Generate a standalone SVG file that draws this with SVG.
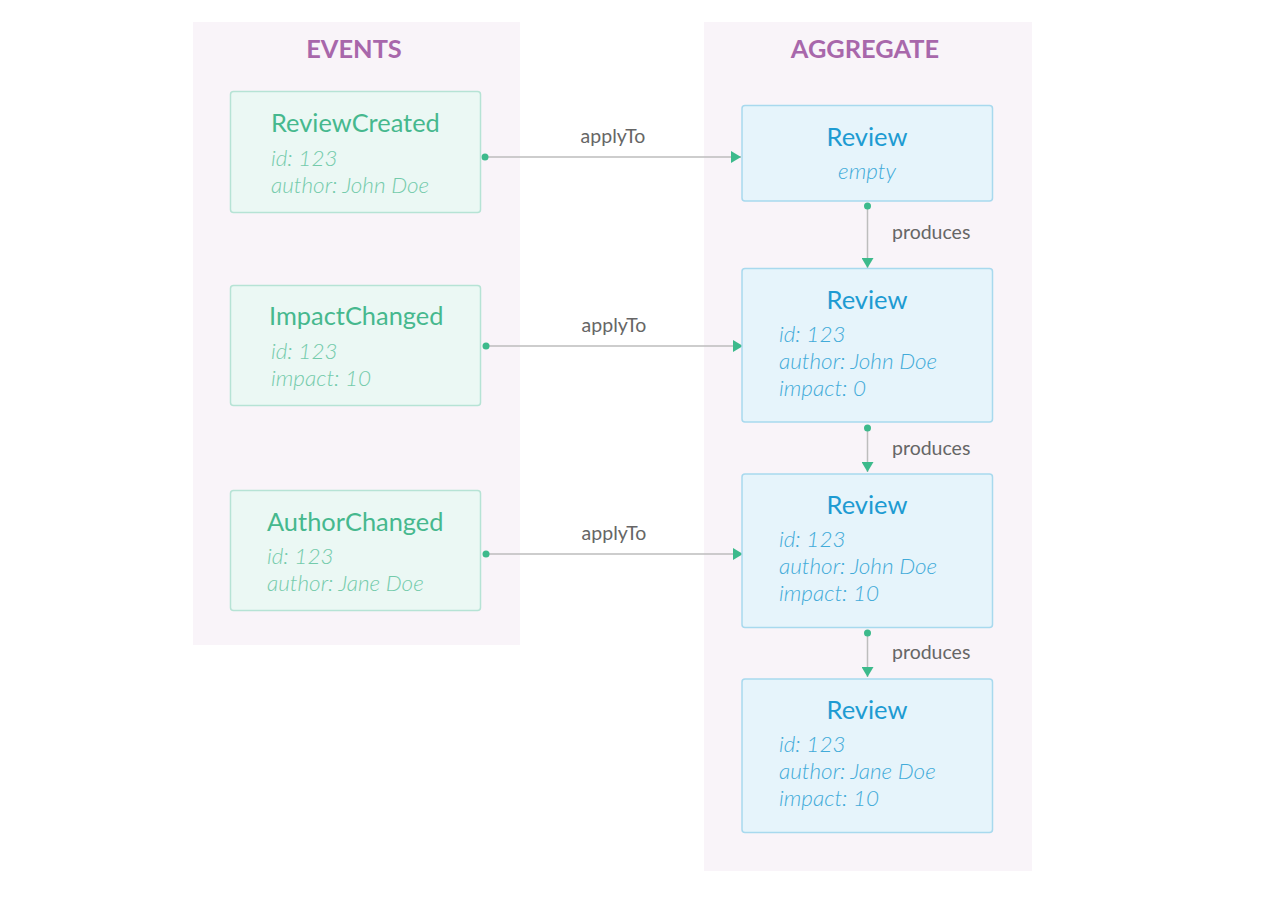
<svg xmlns="http://www.w3.org/2000/svg" width="1268" height="899" viewBox="0 0 1268 899">
<defs>
<style>
.panel{fill:#f9f4f9}
.head{font-family:Lato,"Open Sans","Liberation Sans",sans-serif;font-weight:700;font-size:25.4px;fill:#a867ab;text-anchor:middle}
.ev{fill:#ebf8f4;stroke:#b6e3d5;stroke-width:1.5}
.agg{fill:#e6f4fb;stroke:#a8d9ee;stroke-width:1.5}
.evt{font-family:Lato,"Open Sans","Liberation Sans",sans-serif;font-size:25.4px;fill:#46b88e}
.eva{font-family:"Lato Light",Lato,"Open Sans","Liberation Sans",sans-serif;font-size:22.5px;font-style:italic;font-weight:300;fill:#74cbab}
.agt{font-family:Lato,"Open Sans","Liberation Sans",sans-serif;font-size:25.5px;fill:#1d9bd2;text-anchor:middle}
.aga{font-family:"Lato Light",Lato,"Open Sans","Liberation Sans",sans-serif;font-size:22.5px;font-style:italic;font-weight:300;fill:#42abd9}
.lbl{font-family:Lato,"Open Sans","Liberation Sans",sans-serif;font-size:19.5px;fill:#666666}
.line{stroke:#bdbdbd;stroke-width:1.5;fill:none}
.dot{fill:#3dba8c}
</style>
<marker id="arr" viewBox="0 0 10 12" refX="10" refY="6" markerWidth="10" markerHeight="12" markerUnits="userSpaceOnUse" orient="auto">
<path d="M0,0 L10,6 L0,12 Z" fill="#3dba8c"/>
</marker>
</defs>
<rect width="1268" height="899" fill="#ffffff"/>
<g id="panel-events">
<rect class="panel" x="193" y="22" width="327" height="623"/>
<text class="head" x="354" y="58">EVENTS</text>
</g>
<g id="panel-aggregate">
<rect class="panel" x="704" y="22" width="328" height="849"/>
<text class="head" x="865" y="58">AGGREGATE</text>
</g>
<g id="connectors">
<line class="line" x1="485" y1="157" x2="741" y2="157" marker-end="url(#arr)"/>
<circle class="dot" cx="485" cy="157" r="3.5"/>
<text class="lbl" x="613" y="143" text-anchor="middle">applyTo</text>
<line class="line" x1="486" y1="346" x2="743" y2="346" marker-end="url(#arr)"/>
<circle class="dot" cx="486" cy="346" r="3.5"/>
<text class="lbl" x="614" y="332" text-anchor="middle">applyTo</text>
<line class="line" x1="486" y1="554" x2="743" y2="554" marker-end="url(#arr)"/>
<circle class="dot" cx="486" cy="554" r="3.5"/>
<text class="lbl" x="614" y="540" text-anchor="middle">applyTo</text>
<line class="line" x1="867.5" y1="206" x2="867.5" y2="268" marker-end="url(#arr)"/>
<circle class="dot" cx="867.5" cy="206" r="3.5"/>
<text class="lbl" x="892" y="239">produces</text>
<line class="line" x1="867.5" y1="428" x2="867.5" y2="472" marker-end="url(#arr)"/>
<circle class="dot" cx="867.5" cy="428" r="3.5"/>
<text class="lbl" x="892" y="455">produces</text>
<line class="line" x1="867.5" y1="633" x2="867.5" y2="677" marker-end="url(#arr)"/>
<circle class="dot" cx="867.5" cy="633" r="3.5"/>
<text class="lbl" x="892" y="659">produces</text>
</g>
<g id="review-created">
<rect class="ev" x="230.5" y="91.5" width="250" height="121" rx="3"/>
<text class="evt" x="271" y="132">ReviewCreated</text>
<text class="eva" x="271" y="166">id: 123</text>
<text class="eva" x="271" y="193">author: John Doe</text>
</g>
<g id="impact-changed">
<rect class="ev" x="230.5" y="285.5" width="250" height="120" rx="3"/>
<text class="evt" x="269" y="325">ImpactChanged</text>
<text class="eva" x="271" y="359">id: 123</text>
<text class="eva" x="271" y="386">impact: 10</text>
</g>
<g id="author-changed">
<rect class="ev" x="230.5" y="490.5" width="250" height="120" rx="3"/>
<text class="evt" x="267" y="531">AuthorChanged</text>
<text class="eva" x="267" y="564">id: 123</text>
<text class="eva" x="267" y="591">author: Jane Doe</text>
</g>
<g id="review-empty">
<rect class="agg" x="742" y="105.5" width="250.5" height="95.5" rx="3"/>
<text class="agt" x="867" y="146">Review</text>
<text class="aga" x="867" y="179" text-anchor="middle">empty</text>
</g>
<g id="review-1">
<rect class="agg" x="742" y="268.5" width="250.5" height="153.5" rx="3"/>
<text class="agt" x="867" y="309">Review</text>
<text class="aga" x="779" y="342">id: 123</text>
<text class="aga" x="779" y="369">author: John Doe</text>
<text class="aga" x="779" y="396">impact: 0</text>
</g>
<g id="review-2">
<rect class="agg" x="742" y="474" width="250.5" height="153.5" rx="3"/>
<text class="agt" x="867" y="514">Review</text>
<text class="aga" x="779" y="547">id: 123</text>
<text class="aga" x="779" y="574">author: John Doe</text>
<text class="aga" x="779" y="601">impact: 10</text>
</g>
<g id="review-3">
<rect class="agg" x="742" y="679" width="250.5" height="153.5" rx="3"/>
<text class="agt" x="867" y="719">Review</text>
<text class="aga" x="779" y="752">id: 123</text>
<text class="aga" x="779" y="779">author: Jane Doe</text>
<text class="aga" x="779" y="806">impact: 10</text>
</g>
</svg>
